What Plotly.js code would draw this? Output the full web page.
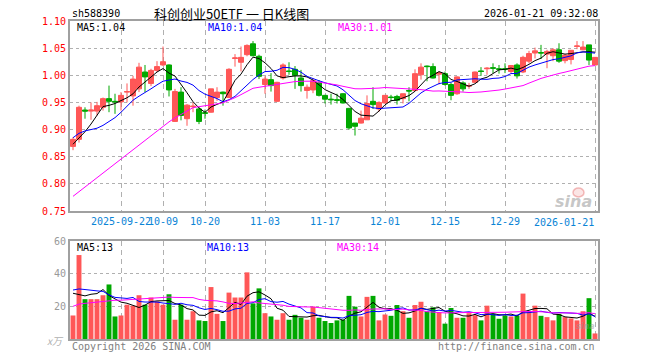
<!DOCTYPE html>
<html><head><meta charset="utf-8">
<script src="https://cdn.plot.ly/plotly-3.0.1.min.js"></script>
<style>html,body{margin:0;padding:0;background:#fff;}#chart{width:660px;height:360px;}</style>
</head><body><div id="chart"></div>
<script>
const dates = ["2025-09-10","2025-09-11","2025-09-12","2025-09-15","2025-09-16","2025-09-17","2025-09-18","2025-09-19",
"2025-09-22","2025-09-23","2025-09-24","2025-09-25","2025-09-26","2025-09-29","2025-09-30","2025-10-09","2025-10-10",
"2025-10-13","2025-10-14","2025-10-15","2025-10-16","2025-10-17","2025-10-20","2025-10-21","2025-10-22","2025-10-23",
"2025-10-24","2025-10-27","2025-10-28","2025-10-29","2025-10-30","2025-10-31","2025-11-03","2025-11-04","2025-11-05",
"2025-11-06","2025-11-07","2025-11-10","2025-11-11","2025-11-12","2025-11-13","2025-11-14","2025-11-17","2025-11-18",
"2025-11-19","2025-11-20","2025-11-21","2025-11-24","2025-11-25","2025-11-26","2025-11-27","2025-11-28","2025-12-01",
"2025-12-02","2025-12-03","2025-12-04","2025-12-05","2025-12-08","2025-12-09","2025-12-10","2025-12-11","2025-12-12",
"2025-12-15","2025-12-16","2025-12-17","2025-12-18","2025-12-19","2025-12-22","2025-12-23","2025-12-24","2025-12-25",
"2025-12-26","2025-12-29","2025-12-30","2025-12-31","2026-01-05","2026-01-06","2026-01-07","2026-01-08","2026-01-09",
"2026-01-12","2026-01-13","2026-01-14","2026-01-15","2026-01-16","2026-01-19","2026-01-20","2026-01-21"];

const openP = [0.869,0.882,0.936,0.934,0.934,0.941,0.957,0.952,0.951,0.969,0.962,0.975,1.006,0.985,1.009,1.019,1.019,
0.915,0.969,0.920,0.942,0.938,0.931,0.932,0.959,0.969,0.959,1.031,1.024,1.038,1.058,1.035,0.983,0.992,0.952,0.995,1.008,
1.011,0.995,0.972,0.973,0.986,0.963,0.956,0.955,0.966,0.939,0.912,0.912,0.918,0.952,0.938,0.949,0.960,0.961,0.957,0.972,
0.972,1.001,1.017,1.016,1.002,1.003,0.983,0.966,0.986,0.980,0.987,1.008,1.012,1.014,1.012,1.012,1.007,1.019,1.006,1.026,
1.041,1.042,1.039,1.036,1.047,1.027,1.029,1.053,1.047,1.056,1.019];
const highP = [0.886,0.944,0.941,0.950,0.951,0.959,0.981,0.966,0.969,0.985,0.999,1.023,1.019,1.012,1.026,1.053,1.020,
0.975,0.978,0.947,0.950,0.941,0.937,0.975,0.978,0.970,1.013,1.039,1.053,1.057,1.063,1.038,0.998,1.004,0.988,1.022,1.024,
1.017,1.010,0.983,0.995,0.991,0.964,0.966,0.966,0.967,0.940,0.912,0.935,0.963,0.978,0.952,0.963,0.964,0.964,0.966,0.978,
1.011,1.022,1.018,1.022,1.007,1.007,0.986,0.998,0.989,0.986,1.007,1.015,1.015,1.022,1.019,1.022,1.019,1.022,1.036,1.045,
1.051,1.056,1.047,1.050,1.059,1.039,1.046,1.063,1.063,1.056,1.033];
const lowP = [0.862,0.876,0.920,0.918,0.926,0.935,0.932,0.929,0.935,0.950,0.944,0.969,0.969,0.980,1.006,1.017,0.961,
0.914,0.917,0.907,0.932,0.910,0.920,0.931,0.953,0.944,0.958,1.016,1.007,1.035,1.035,0.993,0.966,0.970,0.951,0.992,1.001,
0.975,0.970,0.957,0.967,0.961,0.948,0.946,0.948,0.948,0.900,0.889,0.911,0.918,0.938,0.933,0.948,0.952,0.946,0.948,0.952,
0.970,0.992,0.989,0.994,0.983,0.981,0.954,0.964,0.970,0.975,0.986,0.999,1.001,1.004,1.003,1.004,1.004,0.994,1.004,1.022,
1.031,1.030,1.013,1.026,1.023,1.022,1.020,1.048,1.046,1.019,1.018];
const closeP = [0.882,0.941,0.934,0.936,0.944,0.957,0.952,0.951,0.963,0.970,0.993,1.015,0.997,1.009,1.016,1.025,0.973,
0.970,0.926,0.945,0.943,0.915,0.930,0.975,0.969,0.966,1.011,1.032,1.033,1.055,1.036,0.998,0.993,0.981,0.987,1.019,1.007,
1.000,0.981,0.978,0.990,0.963,0.956,0.955,0.954,0.949,0.903,0.906,0.921,0.948,0.946,0.950,0.963,0.959,0.954,0.966,0.971,
1.003,1.015,1.016,0.995,1.005,0.983,0.963,0.997,0.975,0.981,1.006,1.007,1.013,1.013,1.011,1.011,1.018,0.999,1.033,1.040,
1.045,1.041,1.044,1.047,1.026,1.037,1.046,1.054,1.052,1.028,1.033];
const volume = [14.4,51.4,24.4,24.4,24.4,26.8,33.4,13.8,14.4,21,20.4,26.8,21,25.4,23,21,27.4,11.8,21,11.8,17,11.4,11,
31.8,15.4,11,28.4,25.4,25.4,40.8,21.8,31,15.8,13.8,11.8,15.8,11.8,14.8,13,11.8,19.8,13,11,9.8,11.4,11.8,26.4,19.8,13.8,
25.8,26.4,11.4,15,14.2,20.8,17,13,20.8,22.8,17,19.4,16.4,9.4,19,13,13,15.8,14.6,11.4,20.4,15.4,12.4,14.4,13.8,14.4,27.8,
16.8,20.4,14.2,13.4,11.4,15.4,13.4,12.6,11.4,17,25,3.4];
// sessions before the visible window (only feed the moving averages)
const prevCloses = [0.684,0.677,0.679,0.687,0.700,0.695,0.694,0.706,0.713,0.736,0.758,0.740,0.752,0.759,0.745,0.735,
0.750,0.740,0.755,0.755,0.860,0.890,0.910,0.920,0.905,0.885,0.875,0.865,0.858];
const prevVolumes = [10,11,12,13,12,14,15,13,14,16,15,17,16,18,17,16,18,17,19,17,45,28,30,27,30,54.4,29.4,19.4,22.4];

const tickDates = ["2025-09-22","2025-10-09","2025-10-20","2025-11-03","2025-11-17","2025-12-01","2025-12-15","2025-12-29","2026-01-21"];
const tickLabels = ["2025-09-22","10-09","10-20","11-03","11-17","12-01","12-15","12-29","2026-01-21"];
const priceTicks = [0.75,0.80,0.85,0.90,0.95,1.00,1.05,1.10];
const volTicks = [20,40,60];

const RED = "#ff5757", GREEN = "#00a800", TICKBLUE = "#0a84d6";
const MONO = "DejaVu Sans Mono";

function movingAvg(prev, vals, n) {
  const all = prev.concat(vals);
  return vals.map((_, i) => {
    const end = prev.length + i;
    let s = 0;
    for (let k = end - n + 1; k <= end; k++) s += all[k];
    return s / n;
  });
}

const volColors = closeP.map((c, i) => c >= openP[i] ? RED : GREEN);

const traces = [
  {type: "candlestick", x: dates, open: openP, high: highP, low: lowP, close: closeP,
   xaxis: "x", yaxis: "y", whiskerwidth: 0, hoverinfo: "skip", showlegend: false,
   increasing: {line: {color: RED, width: 1}, fillcolor: RED},
   decreasing: {line: {color: GREEN, width: 1}, fillcolor: GREEN}},
  {type: "scatter", mode: "lines", x: dates, y: movingAvg(prevCloses, closeP, 5), xaxis: "x", yaxis: "y",
   line: {color: "#000000", width: 1}, hoverinfo: "skip", showlegend: false},
  {type: "scatter", mode: "lines", x: dates, y: movingAvg(prevCloses, closeP, 10), xaxis: "x", yaxis: "y",
   line: {color: "#0000ff", width: 1}, hoverinfo: "skip", showlegend: false},
  {type: "scatter", mode: "lines", x: dates, y: movingAvg(prevCloses, closeP, 30), xaxis: "x", yaxis: "y",
   line: {color: "#ff00ff", width: 1}, hoverinfo: "skip", showlegend: false},
  {type: "bar", x: dates, y: volume, xaxis: "x2", yaxis: "y2", marker: {color: volColors, line: {width: 0}},
   hoverinfo: "skip", showlegend: false},
  {type: "scatter", mode: "lines", x: dates, y: movingAvg(prevVolumes, volume, 5), xaxis: "x2", yaxis: "y2",
   line: {color: "#000000", width: 1}, hoverinfo: "skip", showlegend: false},
  {type: "scatter", mode: "lines", x: dates, y: movingAvg(prevVolumes, volume, 10), xaxis: "x2", yaxis: "y2",
   line: {color: "#0000ff", width: 1}, hoverinfo: "skip", showlegend: false},
  {type: "scatter", mode: "lines", x: dates, y: movingAvg(prevVolumes, volume, 30), xaxis: "x2", yaxis: "y2",
   line: {color: "#ff00ff", width: 1}, hoverinfo: "skip", showlegend: false}
];

const FRAME = "#a0a0a0", GRID = "#b0b0b0";
const lastIdx = tickLabels.length - 1;
const xCommon = {type: "category", range: [-0.5, dates.length - 0.5], tickvals: tickDates,
  tickangle: 0, showgrid: true, gridcolor: GRID, griddash: "5px,4px", gridwidth: 1, showline: true, mirror: true,
  linecolor: FRAME, linewidth: 2, zeroline: false, ticks: "", fixedrange: true};

function ann(text, x, y, color, xanchor, extra) {
  return Object.assign({text: text, x: x, y: y, xref: "paper", yref: "paper", showarrow: false,
    xanchor: xanchor || "left", yanchor: "middle", font: {family: MONO, size: 10, color: color}}, extra || {});
}
const W = 528, H = 318;
const px = x => (x - 70) / W, py = y => (339 - y) / H;

const layout = {
  width: 660, height: 360, margin: {l: 70, r: 62, t: 21, b: 21, pad: 0},
  paper_bgcolor: "#ffffff", plot_bgcolor: "#ffffff", showlegend: false,
  boxgap: 0.12, boxgroupgap: 0.05, bargap: 0.18,
  font: {family: MONO, size: 10},
  xaxis: Object.assign({}, xCommon, {domain: [0, 1], anchor: "y", rangeslider: {visible: false},
    // the last label is right-aligned on its tick (below, as an annotation) like the original
    ticktext: tickLabels.map((t, i) => i === lastIdx ? "" : t),
    tickfont: {family: MONO, size: 10, color: TICKBLUE}}),
  yaxis: {domain: [py(211), 1], anchor: "x", range: [0.75, 1.10], tickvals: priceTicks,
    ticktext: priceTicks.map(v => v.toFixed(2)), tickfont: {family: MONO, size: 10, color: "#ff0000"},
    showgrid: true, gridcolor: GRID, griddash: "dot", showline: true, mirror: true, linecolor: FRAME, linewidth: 2,
    zeroline: false, ticks: "", fixedrange: true},
  xaxis2: Object.assign({}, xCommon, {domain: [0, 1], anchor: "y2", matches: "x", showticklabels: false}),
  yaxis2: {domain: [0, py(241)], anchor: "x2", range: [0, 60], tickvals: volTicks,
    ticktext: volTicks.map(String), tickfont: {family: MONO, size: 10, color: "#999999"},
    showgrid: true, gridcolor: GRID, griddash: "dot", showline: true, mirror: true, linecolor: FRAME, linewidth: 2,
    zeroline: false, ticks: "", fixedrange: true},
  annotations: [
    ann("sh588390", px(70), py(13), "#000000", "left"),
    ann("科创创业50ETF 一 日K线图", px(231), py(13), "#000000", "center",
        {font: {family: "Noto Sans CJK SC", size: 13, color: "#000000"}}),
    ann("2026-01-21 09:32:08", px(600), py(13), "#000000", "right"),
    {text: tickLabels[lastIdx], x: tickDates[lastIdx], xref: "x", y: py(222), yref: "paper", showarrow: false,
     xanchor: "right", yanchor: "middle", xshift: 1, font: {family: MONO, size: 10, color: TICKBLUE}},
    ann("MA5:1.04", px(75), py(27), "#000000", "left"),
    ann("MA10:1.04", px(206), py(27), "#0000ff", "left"),
    ann("MA30:1.01", px(336), py(27), "#ff00ff", "left"),
    ann("MA5:13", px(75), py(247), "#000000", "left"),
    ann("MA10:13", px(205), py(247), "#0000ff", "left"),
    ann("MA30:14", px(335), py(247), "#ff00ff", "left"),
    ann("Copyright 2026 SINA.COM", px(70), py(346), "#808080", "left"),
    ann("http://finance.sina.com.cn", px(597), py(346), "#808080", "right"),
    ann("x万", px(66), py(340), "#aaaaaa", "right", {font: {family: "Noto Sans CJK SC", size: 10, color: "#b0b0b0", style: "italic"}}),
    ann("sina", px(594), py(201), "#a8a8a8", "right", {font: {family: "DejaVu Sans", size: 16, color: "rgba(150,150,150,0.55)", weight: "bold", style: "italic"}}),
    ann("sina", px(597), py(326), "#a8a8a8", "right", {font: {family: "DejaVu Sans", size: 8, color: "rgba(150,150,150,0.5)", weight: "bold", style: "italic"}})
  ],
  shapes: [
    {type: "circle", xref: "paper", yref: "paper", x0: px(573), x1: px(584), y0: py(197), y1: py(188),
     line: {color: "rgba(230,110,110,0.45)", width: 1.5}, fillcolor: "rgba(240,150,150,0.25)"}
  ]
};

Plotly.newPlot("chart", traces, layout, {staticPlot: true, displayModeBar: false});
</script></body></html>
